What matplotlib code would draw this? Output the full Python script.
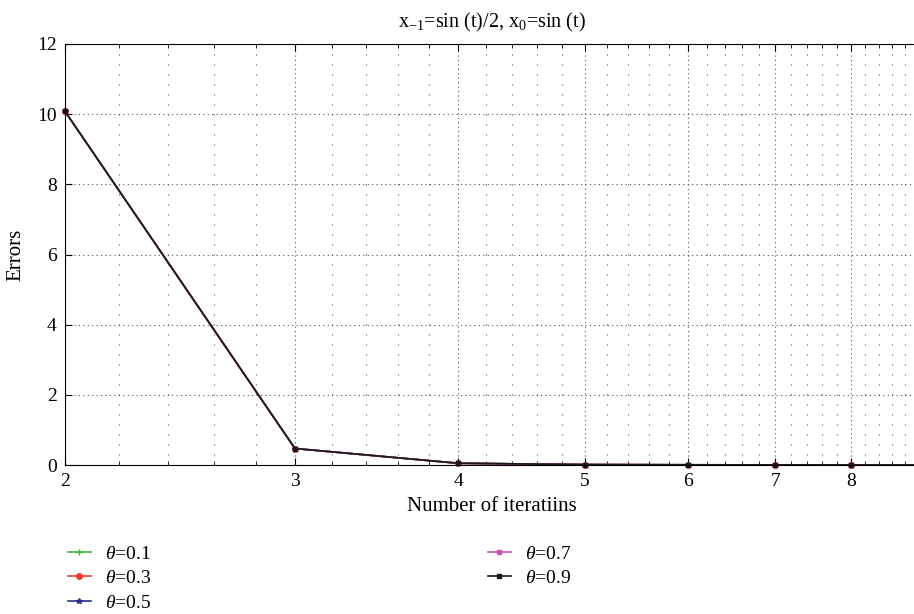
import matplotlib.pyplot as plt
from matplotlib.ticker import FixedLocator, NullFormatter
import numpy as np

## DATA
iterations = [2, 3, 4, 5, 6, 7, 8, 9]
err_01 = [10.08, 0.47, 0.05, 0.012, 0.006, 0.003, 0.002, 0.001]
err_03 = [10.08, 0.47, 0.05, 0.012, 0.006, 0.003, 0.002, 0.001]
err_05 = [10.08, 0.47, 0.05, 0.012, 0.006, 0.003, 0.002, 0.001]
err_07 = [10.08, 0.47, 0.05, 0.012, 0.006, 0.003, 0.002, 0.001]
err_09 = [10.08, 0.47, 0.05, 0.012, 0.006, 0.003, 0.002, 0.001]
labels = ["0.1", "0.3", "0.5", "0.7", "0.9"]
x_ticks = [2, 3, 4, 5, 6, 7, 8]
y_ticks = [0, 2, 4, 6, 8, 10, 12]

plt.rcParams["font.family"] = ["Liberation Serif", "DejaVu Serif"]
plt.rcParams["mathtext.fontset"] = "custom"
plt.rcParams["mathtext.rm"] = "Liberation Serif"
plt.rcParams["mathtext.it"] = "Liberation Serif:italic"

fig = plt.figure(figsize=(9.14, 6.14), dpi=100)
ax = fig.add_axes([65 / 914, 1 - 465 / 614, 853 / 914, 421 / 614])

# series styles (all curves overlap almost exactly)
styles = [
    (err_01, "#3cb83c", "+", 5),
    (err_03, "#f03c28", "o", 4),
    (err_05, "#2c2c8c", "*", 4),
    (err_07, "#d050b0", "s", 2.5),
    (err_09, "#1a1a1a", "s", 3),
]
for (vals, col, mk, ms), lab in zip(styles, labels):
    ax.plot(iterations, vals, color=col, marker=mk, markersize=ms, linewidth=1.2,
            label=r"$\theta$=" + lab, clip_on=False)

ax.set_xscale("log")
ax.set_xlim(2, 9)
ax.set_ylim(0, 12)

minor_x = [v for v in np.arange(2.2, 9.0, 0.2) if abs(v - round(v)) > 1e-6]
ax.xaxis.set_major_locator(FixedLocator(x_ticks))
ax.xaxis.set_minor_locator(FixedLocator(minor_x))
ax.xaxis.set_major_formatter(plt.FixedFormatter([str(t) for t in x_ticks]))
ax.xaxis.set_minor_formatter(NullFormatter())
ax.set_yticks(y_ticks)

ax.tick_params(which="both", direction="in", top=True, right=False, labelsize=14, pad=6)
ax.tick_params(which="major", length=5)
ax.tick_params(which="minor", length=3)

ax.grid(which="major", axis="both", linestyle=(0, (1, 3)), color="#555555", linewidth=0.8)
ax.grid(which="minor", axis="x", linestyle=(0, (1, 8)), color="#555555", linewidth=0.8)

ax.spines["right"].set_visible(False)

ax.set_title(r"x$_{-1}$=sin (t)/2, x$_0$=sin (t)", fontsize=14.5, pad=12)
ax.set_xlabel("Number of iteratiins", fontsize=15, labelpad=5)
ax.set_ylabel("Errors", fontsize=15, labelpad=8)

fig.legend(loc="upper left", bbox_to_anchor=(0.055, 0.141), ncol=2, frameon=False,
           fontsize=14, handlelength=1.2, columnspacing=17.3, labelspacing=0.36,
           handletextpad=0.72)

fig.savefig("out.png", dpi=100)
